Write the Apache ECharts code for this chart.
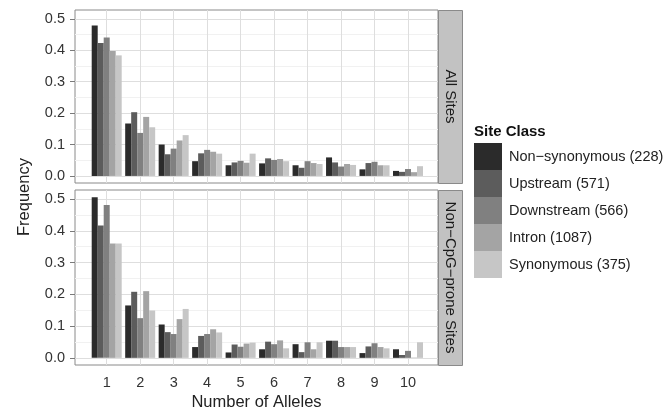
<!DOCTYPE html>
<html>
<head>
<meta charset="utf-8">
<script src="https://cdn.jsdelivr.net/npm/echarts@6/dist/echarts.min.js"></script>
<style>html,body{margin:0;padding:0;background:#fff;}#chart{width:672px;height:414px;}</style>
</head>
<body>
<div id="chart"></div>
<script>
// ---- data ----
var categories = [1, 2, 3, 4, 5, 6, 7, 8, 9, 10];
var seriesNames = ['Non\u2212synonymous (228)', 'Upstream (571)', 'Downstream (566)', 'Intron (1087)', 'Synonymous (375)'];
var panelNames = ['All Sites', 'Non\u2212CpG\u2212prone Sites'];
var yTicks = [0, 0.1, 0.2, 0.3, 0.4, 0.5];
var yMinorGrid = [0.05, 0.15, 0.25, 0.35, 0.45];

var allNonSyn   = [0.479, 0.167, 0.100, 0.047, 0.034, 0.040, 0.034, 0.059, 0.021, 0.016];
var allUp       = [0.423, 0.203, 0.069, 0.072, 0.043, 0.056, 0.026, 0.043, 0.041, 0.013];
var allDown     = [0.441, 0.137, 0.087, 0.083, 0.048, 0.051, 0.047, 0.030, 0.045, 0.022];
var allIntron   = [0.398, 0.188, 0.113, 0.077, 0.042, 0.054, 0.041, 0.038, 0.034, 0.012];
var allSyn      = [0.384, 0.155, 0.130, 0.071, 0.071, 0.047, 0.038, 0.035, 0.034, 0.031];

var cpgNonSyn   = [0.506, 0.165, 0.105, 0.034, 0.017, 0.027, 0.043, 0.054, 0.015, 0.027];
var cpgUp       = [0.417, 0.208, 0.081, 0.069, 0.042, 0.051, 0.018, 0.054, 0.036, 0.009];
var cpgDown     = [0.481, 0.125, 0.075, 0.075, 0.035, 0.043, 0.049, 0.034, 0.046, 0.022];
var cpgIntron   = [0.360, 0.210, 0.122, 0.090, 0.045, 0.055, 0.027, 0.034, 0.034, 0.001];
var cpgSyn      = [0.360, 0.149, 0.154, 0.080, 0.048, 0.030, 0.049, 0.034, 0.030, 0.049];

var colors = ['#2b2b2b', '#5c5c5c', '#808080', '#a4a4a4', '#c6c6c6'];
var FONT = '"Liberation Sans", Arial, Helvetica, sans-serif';

var panels = [
  [allNonSyn, allUp, allDown, allIntron, allSyn],
  [cpgNonSyn, cpgUp, cpgDown, cpgIntron, cpgSyn]
];

var grids = [
  {left: 75, top: 10, width: 363, height: 173},
  {left: 75, top: 190, width: 363, height: 175}
];

var X_MIN = 0.053, X_MAX = 10.896, Y_MIN = -0.0225, Y_MAX = 0.5285;

var chart = echarts.init(document.getElementById('chart'), null, {renderer: 'canvas'});

var gridOpts = grids.map(function (g) {
  return {left: g.left, top: g.top, width: g.width, height: g.height,
    show: true, backgroundColor: '#ffffff', borderColor: '#8a8a8a', borderWidth: 1, containLabel: false};
});

var xAxes = grids.map(function (g, i) {
  var bottom = i === 1;
  return {
    type: 'value', gridIndex: i, min: X_MIN, max: X_MAX,
    axisLine: {show: false},
    splitLine: {show: false},
    axisTick: {show: bottom, customValues: categories, length: 5, lineStyle: {color: '#7a7a7a'}},
    axisLabel: {show: bottom, customValues: categories, margin: 10, fontSize: 14.5, color: '#333', fontFamily: FONT,
      formatter: function (v) { return String(Math.round(v)); }},
    name: bottom ? 'Number of Alleles' : '',
    nameLocation: 'middle', nameGap: 29,
    nameTextStyle: {fontSize: 16.5, color: '#222', fontFamily: FONT}
  };
});

var yAxes = grids.map(function (g, i) {
  return {
    type: 'value', gridIndex: i, min: Y_MIN, max: Y_MAX,
    axisLine: {show: false},
    splitLine: {show: false},
    axisTick: {show: true, customValues: yTicks, length: 5, lineStyle: {color: '#7a7a7a'}},
    axisLabel: {show: true, customValues: yTicks, margin: 10, fontSize: 14.5, color: '#333', fontFamily: FONT,
      formatter: function (v) { return v.toFixed(1); }}
  };
});

var series = [];
panels.forEach(function (panel, pi) {
  // gridlines carrier (drawn behind bars)
  var gl = [];
  yTicks.forEach(function (v) { gl.push({yAxis: v, lineStyle: {color: '#dedede', width: 1, type: 'solid'}}); });
  yMinorGrid.forEach(function (v) { gl.push({yAxis: v, lineStyle: {color: '#f1f1f1', width: 1, type: 'solid'}}); });
  categories.forEach(function (c) { gl.push({xAxis: c, lineStyle: {color: '#dedede', width: 1, type: 'solid'}}); });
  series.push({
    type: 'line', name: '__grid' + pi, xAxisIndex: pi, yAxisIndex: pi, data: [], silent: true, z: 1,
    markLine: {silent: true, symbol: ['none', 'none'], z: 1, animation: false, label: {show: false}, data: gl}
  });
  panel.forEach(function (vals, si) {
    series.push({
      type: 'bar', name: seriesNames[si], xAxisIndex: pi, yAxisIndex: pi,
      data: categories.map(function (c, k) { return [c, vals[k]]; }),
      barWidth: 6, barGap: '0%',
      itemStyle: {color: colors[si]},
      z: 3, animation: false
    });
  });
});

var graphics = [];
// strips
grids.forEach(function (g, i) {
  graphics.push({type: 'rect', left: g.left + g.width, top: g.top, silent: true,
    shape: {x: 0, y: 0, width: 24, height: g.height},
    style: {fill: '#c2c2c2', stroke: '#8a8a8a', lineWidth: 1}, z: 10});
  graphics.push({type: 'text', x: g.left + g.width + 12, y: g.top + g.height / 2, rotation: -Math.PI / 2, silent: true,
    style: {text: panelNames[i], font: '15px ' + FONT, fill: '#1a1a1a', align: 'center', verticalAlign: 'middle'}, z: 11});
});
// y-axis title
graphics.push({type: 'text', x: 24, y: 197, rotation: Math.PI / 2, silent: true,
  style: {text: 'Frequency', font: '16.5px ' + FONT, fill: '#222', align: 'center', verticalAlign: 'middle'}});
// legend title
graphics.push({type: 'text', x: 474, y: 132, silent: true,
  style: {text: 'Site Class', font: 'bold 15px ' + FONT, fill: '#111', align: 'left', verticalAlign: 'middle'}});

chart.setOption({
  animation: false,
  backgroundColor: '#ffffff',
  grid: gridOpts,
  xAxis: xAxes,
  yAxis: yAxes,
  legend: {
    data: seriesNames, orient: 'vertical', left: 474, top: 143, padding: 0,
    itemWidth: 28, itemHeight: 27, itemGap: 0, icon: 'rect',
    textStyle: {fontSize: 14.5, color: '#222', fontFamily: FONT, padding: [0, 0, 0, 2]},
    selectedMode: false
  },
  series: series,
  graphic: graphics
});
</script>
</body>
</html>
